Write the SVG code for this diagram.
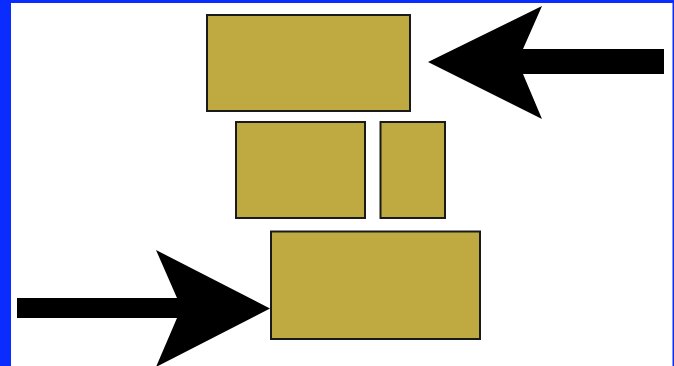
<svg xmlns="http://www.w3.org/2000/svg" width="674" height="366" viewBox="0 0 674 366">
<style>
.box{fill:#BFAA41;stroke:#1a1a1a;stroke-width:2}
.arrow{fill:#000;stroke:none}
</style>
<rect x="0" y="0" width="674" height="366" fill="#ffffff"/>
<rect x="0" y="0" width="11" height="366" fill="#0a2cff"/>
<rect x="0" y="0" width="674" height="3" fill="#0a2cff"/>
<rect x="672.5" y="0" width="1.5" height="366" fill="#0a2cff"/>
<g id="node-top"><rect class="box" x="207" y="15" width="203" height="96"/></g>
<g id="node-mid-left"><rect class="box" x="236" y="122" width="129" height="96"/></g>
<g id="node-mid-right"><rect class="box" x="380.5" y="122" width="64.5" height="96"/></g>
<g id="node-bottom"><rect class="box" x="271" y="231.5" width="209" height="107.5"/></g>
<g id="connectors">
<polygon class="arrow" points="664,49 523,49 542,6 428,62 542,119 523,74 664,74"/>
<polygon class="arrow" points="17,298 177,298 156,250 270,308.5 156,367 177,318 17,318"/>
</g>
</svg>
